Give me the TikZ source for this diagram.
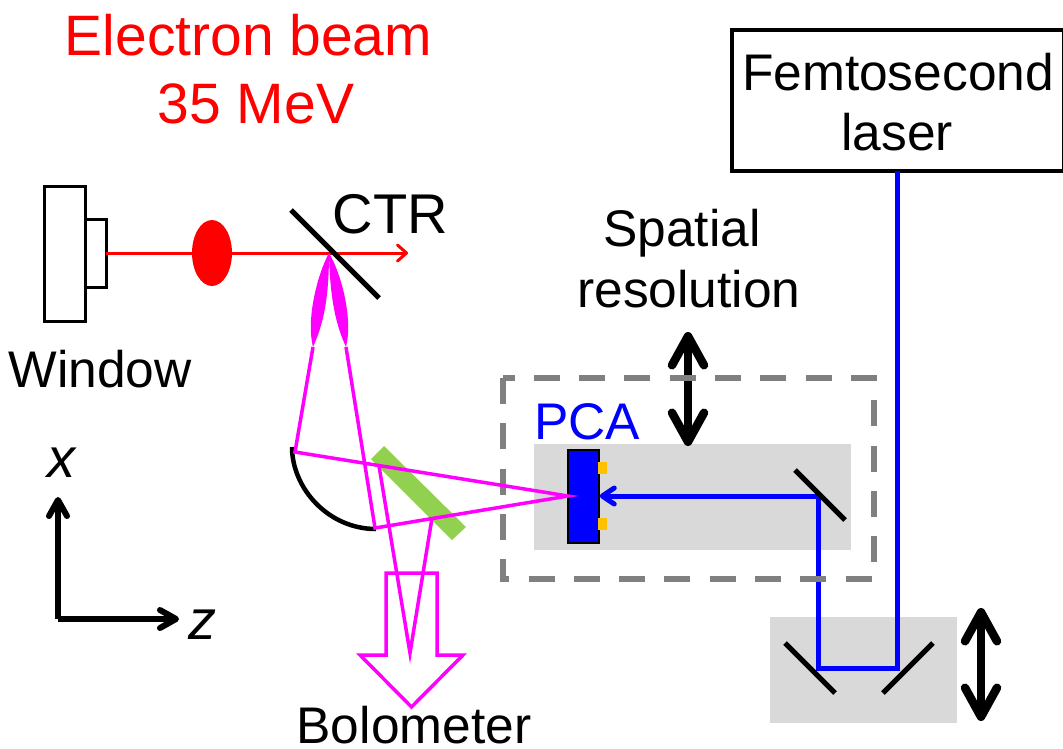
\documentclass[tikz,border=0pt]{standalone}
\usepackage{fontspec}
\setmainfont{Liberation Sans}
\usetikzlibrary{arrows.meta, shapes.geometric}
\definecolor{stagegray}{HTML}{D9D9D9}
\definecolor{framegray}{HTML}{808080}
\definecolor{filtergreen}{HTML}{92D050}
\definecolor{padorange}{HTML}{FFC000}
\definecolor{thzpink}{RGB}{255,0,255}
\definecolor{beamred}{RGB}{255,0,0}
\definecolor{beamblue}{RGB}{0,0,255}
\tikzset{
    x = 1pt,
    y = -1pt,
    bigtext/.style = {font = \fontsize{51.5}{61}\selectfont, inner sep = 0pt, anchor = base},
    stage/.style = {fill = stagegray, draw = none, inner sep = 0pt},
    mirror/.style = {black, line width = 5pt},
    ebeam/.style = {beamred, line width = 3pt},
    thz/.style = {thzpink, line width = 3.5pt, line join = miter},
    laserbeam/.style = {beamblue, line width = 5pt},
    plate/.style = {draw, line width = 3pt, inner sep = 0pt, outer sep = 0pt, fill = white},
    motion/.style = {black, line width = 8.5pt, {Straight Barb[round, length = 29pt, width = 32pt]}-{Straight Barb[round, length = 29pt, width = 32pt]}},
    axis/.style = {black, line width = 6pt, -{Straight Barb[round, length = 16pt, width = 18pt]}}
}

\begin{document}
\begin{tikzpicture}
    \useasboundingbox (0, 0) rectangle (1063, 748);

    % stages
    \node[stage, minimum width = 317pt, minimum height = 106pt] (pcastage) at (692.5, 497) {};
    \node[stage, minimum width = 187pt, minimum height = 106pt] (delaystage) at (863.5, 670) {};

    % laser path
    \node[plate, line width = 4pt, minimum width = 332pt, minimum height = 141.5pt] (laser) at (897.5, 100.25) {};
    \node[bigtext] (femto) at (898, 90) {Femtosecond};
    \node[bigtext] (laserword) at (897, 150) {laser};

    \node[fill = beamblue, draw, line width = 1.5pt, inner sep = 0pt, minimum width = 31pt, minimum height = 93pt] (pca) at (583.5, 496.5) {};
    \node[fill = padorange, inner sep = 0pt, minimum width = 9pt, minimum height = 12pt] (padtop) at (602.5, 468) {};
    \node[fill = padorange, inner sep = 0pt, minimum width = 9pt, minimum height = 12pt] (padbottom) at (602.5, 524) {};

    \coordinate (turn1) at (897, 668);
    \coordinate (turn2) at (818, 668);
    \coordinate (turn3) at (818, 496);
    \draw[laserbeam, line join = miter] (laser.south -| turn1) -- (turn1) -- (turn2) -- (turn3);
    \draw[laserbeam, -{Straight Barb[round, length = 12pt, width = 16pt]}] (turn3) -- (pca.east |- turn3);

    \coordinate (m1a) at (795, 470);
    \coordinate (m1b) at (845, 520);
    \coordinate (m2a) at (785, 643);
    \coordinate (m2b) at (835, 693);
    \coordinate (m3a) at (883, 693);
    \coordinate (m3b) at (933, 643);
    \draw[mirror] (m1a) -- (m1b);
    \draw[mirror] (m2a) -- (m2b);
    \draw[mirror] (m3a) -- (m3b);

    % motions
    \coordinate (spatialtop) at (688, 332);
    \coordinate (spatialbottom) at (688, 446);
    \coordinate (delaytop) at (981, 608);
    \coordinate (delaybottom) at (981, 721);
    \draw[motion] (spatialtop) -- (spatialbottom);
    \draw[motion] (delaytop) -- (delaybottom);

    \draw[framegray, line width = 6pt, dash pattern = on 26pt off 19.3pt] (503, 378) rectangle (874, 579);

    % source
    \node[plate, minimum width = 41pt, minimum height = 135pt] (window) at (64.5, 253.5) {};
    \node[plate, minimum width = 21pt, minimum height = 68pt, anchor = west] (flange) at (window.east) {};
    \node[fill = beamred, ellipse, inner sep = 0pt, minimum width = 40pt, minimum height = 66pt] (bunch) at (212, 253) {};
    \coordinate (ctrspot) at (329, 253);
    \coordinate (ebeamend) at (408, 253);
    \draw[ebeam, -{Straight Barb[round, length = 9pt, width = 16pt]}] (flange.east |- ctrspot) -- (ebeamend);
    \coordinate (ctra) at (291, 210);
    \coordinate (ctrb) at (379, 298);
    \draw[mirror] (ctra) -- (ctrb);

    % THz path
    \coordinate (lobeleft) at (313, 347);
    \coordinate (loberight) at (346, 347);
    \fill[thzpink] (ctrspot) .. controls (317, 275) and (306, 320) .. (lobeleft) .. controls (323, 325) and (329, 300) .. (ctrspot);
    \fill[thzpink] (ctrspot) .. controls (342, 275) and (353, 320) .. (loberight) .. controls (336, 325) and (330, 300) .. (ctrspot);

    \coordinate (oapa) at (292, 447);
    \coordinate (oapb) at (376, 529);
    \draw[black, line width = 4.5pt] (oapa) .. controls (292, 488) and (328, 529) .. (oapb);

    \coordinate (fa) at (384, 446);
    \coordinate (fb) at (371, 459);
    \coordinate (fc) at (452, 540);
    \coordinate (fd) at (466, 527);
    \fill[filtergreen] (fa) -- (fb) -- (fc) -- (fd) -- cycle;

    \coordinate (oapspot1) at (295, 452);
    \coordinate (oapspot2) at (375, 528);
    \coordinate (pcaspot) at (568, 496);
    \coordinate (split1) at (379, 466);
    \coordinate (split2) at (432, 518);
    \coordinate (detfocus) at (410, 653);
    \draw[thz] (lobeleft) -- (oapspot1) -- (pcaspot) -- (oapspot2) -- (loberight);
    \draw[thz] (split1) -- (detfocus) -- (split2);

    \coordinate (ba) at (386, 573);
    \coordinate (bb) at (437, 573);
    \coordinate (bc) at (437, 655);
    \coordinate (bd) at (463, 655);
    \coordinate (be) at (411.5, 707);
    \coordinate (bf) at (360, 655);
    \coordinate (bg) at (386, 655);
    \draw[thz] (ba) -- (bb) -- (bc) -- (bd) -- (be) -- (bf) -- (bg) -- cycle;

    % axes
    \coordinate (origin) at (58, 619);
    \coordinate (xtip) at (58, 497);
    \coordinate (ztip) at (179, 619);
    \draw[axis] (origin) -- (xtip);
    \draw[axis] (origin) -- (ztip);

    % labels
    \node[bigtext, beamred, font = \fontsize{57}{68}\selectfont] (ebeamword) at (248.5, 55) {Electron beam};
    \node[bigtext, beamred, font = \fontsize{57}{68}\selectfont] (energy) at (256, 123) {35 MeV};
    \node[bigtext, font = \fontsize{56}{60}\selectfont] (ctr) at (390.5, 233) {CTR};
    \node[bigtext] (spatial) at (682, 246) {Spatial};
    \node[bigtext] (resolution) at (689, 307) {resolution};
    \node[bigtext] (windowword) at (100, 387) {Window};
    \node[bigtext, beamblue] (pcaword) at (587, 439) {PCA};
    \node[bigtext] (bolometer) at (414, 743) {Bolometer};
    \node[bigtext, font = \fontsize{56}{61}\selectfont\itshape] (xlabel) at (61, 477) {x};
    \node[bigtext, font = \fontsize{56}{61}\selectfont\itshape] (zlabel) at (202, 639) {z};
\end{tikzpicture}
\end{document}
